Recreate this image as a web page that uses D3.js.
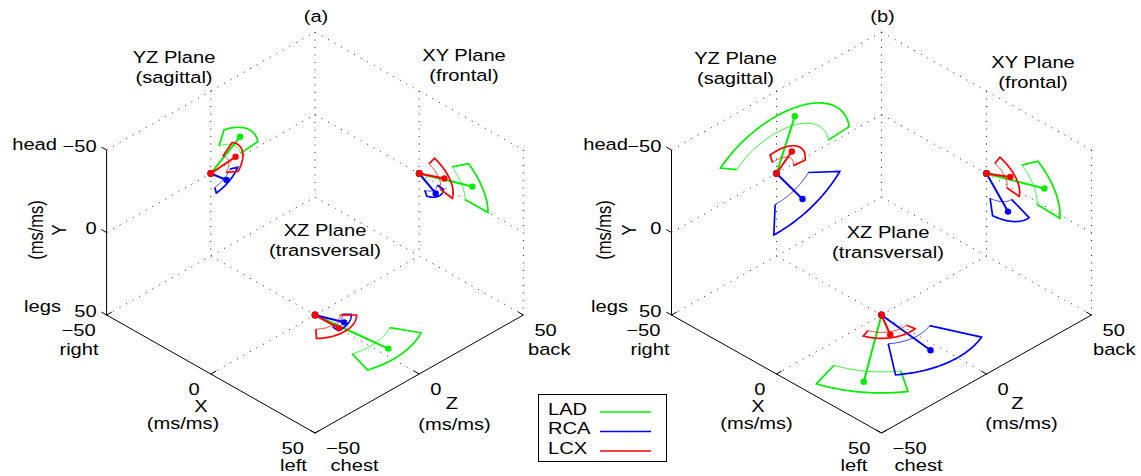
<!DOCTYPE html>
<html>
<head>
<meta charset="utf-8">
<script src="https://cdn.jsdelivr.net/npm/d3@7"></script>
<style>
  body { margin: 0; background: #fff; }
  text { font-family: "Liberation Sans", Arial, Helvetica, sans-serif; font-size: 16.5px; fill: #000; }
</style>
</head>
<body>
<svg id="chart" width="1141" height="476"></svg>
<script>
// ---- data -------------------------------------------------------------
const arteries = ["LAD", "RCA", "LCX"];
const arteryColors = ["#00f000", "#0000ff", "#ff0000"];
const planeTitles = ["YZ Plane", "XY Plane", "XZ Plane"];
const planeSubtitles = ["(sagittal)", "(frontal)", "(transversal)"];
const tickValues = [-50, 0, 50];

// rows: YZ, XY, XZ plane; columns: LAD, RCA, LCX
// mean angle (deg) and mean magnitude (ms/ms) of each projected vector,
// plus the half-spread of angle and magnitude drawn as an annular sector
const meanAngleA   = [[-41, 51, -8], [-22, 39, -25], [6, 21, 1]];
const meanMagA     = [[18.6, 12, 12], [27.5, 10.2, 13.3], [32, 10.8, 11.3]];
const angleSpreadA = [[33, 28, 40], [22, 33, 38], [22.5, 26, 44]];
const magSpreadA   = [[4.2, 2, 3.4], [5.5, 1.5, 3], [5.5, 1.5, 2.8]];

const meanAngleB   = [[-73, 63, -48], [-21, 57, -28], [-53.5, -7, -31]];
const meanMagB     = [[29.8, 27.3, 10.9], [29.5, 18.8, 12.8], [40.4, 26.8, 12.2]];
const angleSpreadB = [[67, 29, 55], [24.5, 26, 38], [19.5, 30.5, 40]];
const magSpreadB   = [[5, 9, 2.8], [5.5, 4.9, 3], [6.3, 9.4, 1.8]];

// ---- drawing ----------------------------------------------------------
const svg = d3.select("#chart");
const SX = 1.22;           // horizontal text stretch of the figure
const MINUS = "\u2212";

function fmt(v) { return v < 0 ? MINUS + Math.abs(v) : String(v); }

function label(g, str, x, y, anchor = "middle", rotated = false) {
  g.append("text")
    .attr("transform", `translate(${x},${y}) scale(${SX},1)` + (rotated ? " rotate(-90)" : ""))
    .attr("text-anchor", anchor)
    .attr("dominant-baseline", "central")
    .text(str);
}

function drawPanel(cfg) {
  const g = svg.append("g");
  const lim = [-50, 50];
  const hx = d3.scaleLinear().domain(lim).range([-cfg.halfW, cfg.halfW]);
  const vx = d3.scaleLinear().domain(lim).range([-cfg.halfH, cfg.halfH]);
  const vy = d3.scaleLinear().domain(lim).range([-cfg.halfY, cfg.halfY]);
  const P = (X, Y, Z) => [cfg.cx + hx(X) + hx(Z), cfg.cy + vx(X) - vx(Z) + vy(Y)];

  // plane coordinates (u, v) -> 3-D point lying on the box wall
  const toPlane = [
    (u, v) => P(-50, v, u),   // YZ wall at X = -50
    (u, v) => P(u, v, 50),    // XY wall at Z = 50
    (u, v) => P(u, 50, v)     // XZ floor at Y = 50
  ];

  const line = d3.line();

  // dotted box edges and zero lines
  const dotted = [
    [P(-50, -50, -50), P(-50, -50, 50)],
    [P(-50, -50, 50), P(50, -50, 50)],
    [P(-50, -50, 50), P(-50, 50, 50)],
    [P(50, -50, 50), P(50, 50, 50)],
    [P(-50, 50, -50), P(-50, 50, 50)],
    [P(-50, 50, 50), P(50, 50, 50)],
    [P(-50, 0, -50), P(-50, 0, 50)],
    [P(-50, -50, 0), P(-50, 50, 0)],
    [P(0, -50, 50), P(0, 50, 50)],
    [P(-50, 0, 50), P(50, 0, 50)],
    [P(0, 50, -50), P(0, 50, 50)],
    [P(-50, 50, 0), P(50, 50, 0)]
  ];
  g.selectAll("path.grid").data(dotted).join("path")
    .attr("class", "grid")
    .attr("d", d => line(d))
    .attr("fill", "none")
    .attr("stroke", "#222")
    .attr("stroke-width", 1)
    .attr("stroke-dasharray", "1,6.5");

  // solid axes
  const axes = [
    [P(-50, -50, -50), P(-50, 50, -50)],
    [P(-50, 50, -50), P(50, 50, -50)],
    [P(50, 50, -50), P(50, 50, 50)]
  ];
  g.selectAll("path.axis").data(axes).join("path")
    .attr("class", "axis")
    .attr("d", d => line(d))
    .attr("stroke", "#000").attr("stroke-width", 1).attr("fill", "none");

  // tick marks
  const ticks = [];
  tickValues.forEach(t => {
    ticks.push([P(-50, t, -50), P(-52.5, t, -50)]);
    ticks.push([P(t, 50, -50), P(t, 50, -47.5)]);
    ticks.push([P(50, 50, t), P(47.5, 50, t)]);
  });
  g.selectAll("path.tick").data(ticks).join("path")
    .attr("class", "tick")
    .attr("d", d => line(d))
    .attr("stroke", "#000").attr("stroke-width", 1);

  // tick labels
  tickValues.forEach(t => {
    const py = P(-50, t, -50);
    label(g, fmt(t), py[0] - 10, py[1] - 4, "end");
    const px = P(t, 50, -50);
    label(g, fmt(t), px[0] - 11, px[1] + 15, "end");
    const pz = P(50, 50, t);
    label(g, fmt(t), pz[0] + 11, pz[1] + 15, "start");
  });

  // axis names and directions
  const L = cfg.labels;
  label(g, cfg.id, cfg.cx + 1, 16);
  label(g, "head", L.headX, 144, "end");
  label(g, "legs", L.legsX, 306, "end");
  label(g, "Y", L.yX, 230, "middle", true);
  label(g, "(ms/ms)", L.yUnitX, 230, "middle", true);
  label(g, "right", L.rightX, 349);
  label(g, "X", L.xNameX, 406);
  label(g, "(ms/ms)", L.xUnitX, 423);
  label(g, "left", L.leftX, 465);
  label(g, "chest", L.chestX, 465);
  label(g, "Z", L.zNameX, 403);
  label(g, "(ms/ms)", L.zUnitX, L.zUnitY);
  label(g, "back", L.backX, 349, "start");

  // plane titles
  cfg.titles.forEach((p, i) => {
    label(g, planeTitles[i], p[0], p[1]);
    label(g, planeSubtitles[i], p[0], p[1] + 20);
  });

  // vectors with their angle / magnitude sectors
  const rad = Math.PI / 180;
  planeTitles.forEach((_, pi) => {
    const proj = toPlane[pi];
    arteries.forEach((name, ai) => {
      const col = arteryColors[ai];
      const a = cfg.angle[pi][ai], m = cfg.mag[pi][ai];
      const da = cfg.angleSpread[pi][ai], dm = cfg.magSpread[pi][ai];
      const angles = d3.range(0, 61).map(k => (a - da + (2 * da) * k / 60) * rad);
      const rOut = m + dm, rIn = m - dm;
      const pol = (r, t) => proj(r * Math.cos(t), r * Math.sin(t));
      const t0 = (a - da) * rad, t1 = (a + da) * rad;

      const outline = [pol(rIn, t0)]
        .concat(angles.map(t => pol(rOut, t)))
        .concat([pol(rIn, t1)]);
      g.append("path")
        .attr("d", line(outline))
        .attr("fill", "none").attr("stroke", col)
        .attr("stroke-width", 1.7).attr("stroke-linejoin", "miter");
      g.append("path")
        .attr("d", line(angles.map(t => pol(rIn, t))))
        .attr("fill", "none").attr("stroke", col)
        .attr("stroke-width", 0.8);

      const o = proj(0, 0);
      const tip = pol(m, a * rad);
      g.append("path").attr("d", line([o, tip]))
        .attr("stroke", col).attr("stroke-width", 2);
      g.append("circle").attr("cx", tip[0]).attr("cy", tip[1]).attr("r", 3.2).attr("fill", col);
      g.append("circle").attr("cx", o[0]).attr("cy", o[1]).attr("r", 3.4).attr("fill", col);
    });
  });
}

drawPanel({
  id: "(a)", cx: 315, cy: 232.5, halfW: 104.2, halfH: 59, halfY: 82.5,
  angle: meanAngleA, mag: meanMagA, angleSpread: angleSpreadA, magSpread: magSpreadA,
  titles: [[174, 57], [464, 55], [325, 230]],
  labels: { headX: 57, legsX: 61, yX: 59, yUnitX: 36, rightX: 79, xNameX: 201, xUnitX: 183,
            leftX: 293.5, chestX: 354.5, zNameX: 452, zUnitX: 454.5, zUnitY: 424, backX: 528 }
});

drawPanel({
  id: "(b)", cx: 881.5, cy: 232.5, halfW: 105, halfH: 59, halfY: 82.5,
  angle: meanAngleB, mag: meanMagB, angleSpread: angleSpreadB, magSpread: magSpreadB,
  titles: [[735.5, 58], [1033, 62], [888, 232]],
  labels: { headX: 628, legsX: 628, yX: 628.5, yUnitX: 604, rightX: 650, xNameX: 758, xUnitX: 756.5,
            leftX: 854, chestX: 918.5, zNameX: 1017.5, zUnitX: 1021.5, zUnitY: 423, backX: 1093 }
});

// legend
const leg = svg.append("g");
leg.append("rect").attr("x", 538.5).attr("y", 394.5).attr("width", 128).attr("height", 67)
  .attr("fill", "#fff").attr("stroke", "#000").attr("stroke-width", 1);
const legY = d3.scalePoint().domain(arteries).range([410, 449]);
arteries.forEach((name, i) => {
  label(leg, name, 548, legY(name) - 1, "start");
  leg.append("line").attr("x1", 600).attr("x2", 651)
    .attr("y1", legY(name) + 2).attr("y2", legY(name) + 2)
    .attr("stroke", arteryColors[i]).attr("stroke-width", 1.5);
});
</script>
</body>
</html>
